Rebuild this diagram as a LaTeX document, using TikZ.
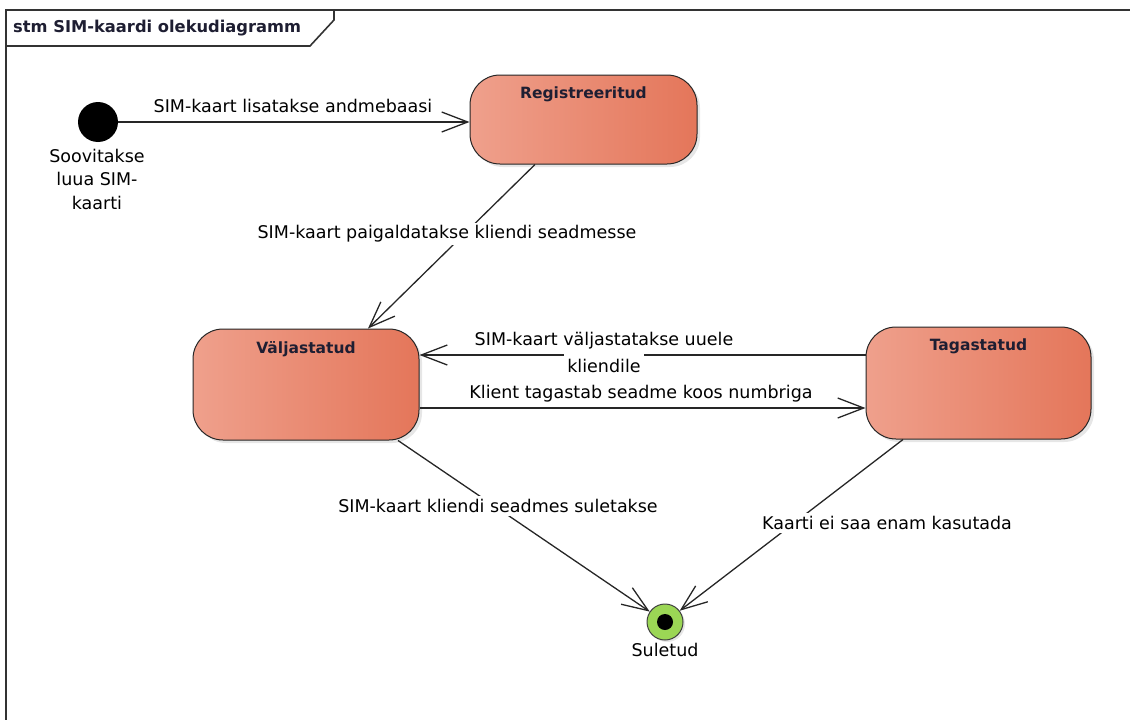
\documentclass[tikz,border=0pt]{standalone}
\usepackage{fontspec}
\setmainfont{DejaVu Sans}
\usetikzlibrary{arrows.meta,shadows}
\definecolor{stL}{RGB}{239,160,140}
\definecolor{stR}{RGB}{228,118,90}
\definecolor{finG}{RGB}{155,214,85}
\definecolor{ttl}{RGB}{30,30,50}
\begin{document}
\begin{tikzpicture}[x=1pt,y=-1pt,
  frameline/.style={line width=1.6pt, draw=black!80},
  statebox/.style={draw=black!85, line width=1pt, rounded corners=30pt,
    left color=stL, right color=stR,
    drop shadow={opacity=0.2, shadow xshift=3pt, shadow yshift=-3pt}},
  sttitle/.style={font=\fontsize{15.5}{18}\selectfont\bfseries, text=ttl, anchor=north, yshift=-9pt},
  lbl/.style={font=\fontsize{17.5}{23.5}\selectfont, align=center, inner sep=3pt},
  lblw/.style={lbl, fill=white},
  arr/.style={draw=black!85, line width=1.3pt, -{Straight Barb[length=26pt,width=20pt,line width=1.3pt]}}
]
\useasboundingbox (0,0) rectangle (1130,720);
% frame
\draw[frameline] (6,730) -- (6,10) -- (1140,10);
\draw[frameline] (6,46) -- (310,46) -- (334,20) -- (334,10);
\node[anchor=west, font=\fontsize{16.3}{19}\selectfont\bfseries, text=ttl, inner sep=0pt] (title) at (13,28) {stm SIM-kaardi olekudiagramm};

% initial
\node[circle, fill=black, minimum size=40pt, inner sep=0pt] (init) at (98,122) {};
\node[lbl, anchor=north, inner sep=0pt] (initlbl) at (97,149) {Soovitakse\\luua SIM-\\kaarti};

% states
\node[statebox, minimum width=227pt, minimum height=89pt,
  label={[sttitle]north:Registreeritud}] (reg) at (583.5,119.5) {};
\node[statebox, minimum width=226pt, minimum height=111pt,
  label={[sttitle]north:Väljastatud}] (valj) at (306,384.5) {};
\node[statebox, minimum width=225pt, minimum height=112pt,
  label={[sttitle]north:Tagastatud}] (tag) at (978.5,383) {};

% final
\node[circle, fill=finG, draw=black!75, line width=1pt, minimum size=36pt, inner sep=0pt,
  drop shadow={opacity=0.2, shadow xshift=2pt, shadow yshift=-2pt}] (fin) at (665,622) {};
\fill[black] (fin.center) circle (8);
\node[lbl, anchor=north, inner sep=0pt] (finlbl) at (665,643) {Suletud};

% transitions
\draw[arr] (init.east) -- (init.east -| reg.west);
\node[lbl] (l1) at (293,106) {SIM-kaart lisatakse andmebaasi};

\draw[arr] ([xshift=-48.5pt]reg.south) -- ([xshift=62pt]valj.north);
\node[lblw] (l2) at (447,234) {SIM-kaart paigaldatakse kliendi seadmesse};

\draw[arr] ([yshift=28pt]tag.west) coordinate (t1) -- (t1 -| valj.east);
\node[lbl] (l3a) at (604,341) {SIM-kaart väljastatakse uuele};
\node[lbl, fill=white, inner ysep=5pt] (l3b) at (604,366) {kliendile};

\draw[arr] ([yshift=-23.5pt]valj.east) coordinate (v1) -- (v1 -| tag.west);
\node[lbl] (l4) at (641,394) {Klient tagastab seadme koos numbriga};

\draw[arr] ([xshift=92pt]valj.south) -- (fin);
\node[lblw] (l5) at (498,506) {SIM-kaart kliendi seadmes suletakse};

\draw[arr] ([xshift=-75.5pt]tag.south) -- (fin);
\node[lblw] (l6) at (887,523) {Kaarti ei saa enam kasutada};
\end{tikzpicture}
\end{document}
